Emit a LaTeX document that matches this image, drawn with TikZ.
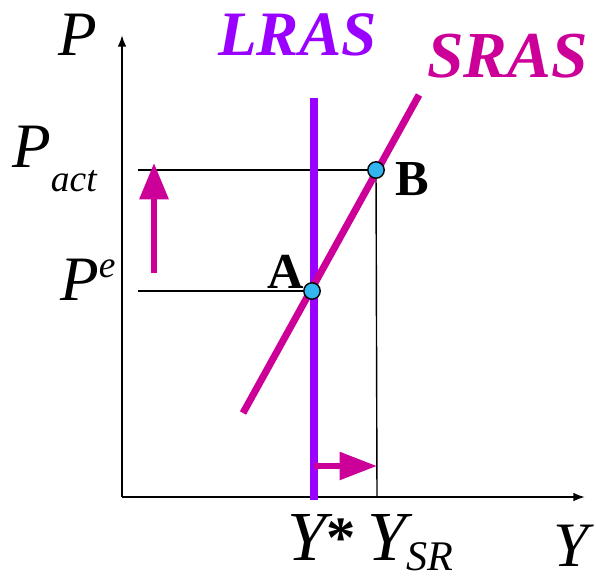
\documentclass[tikz,border=0pt]{standalone}
\usepackage{fontspec}
\setmainfont{Liberation Serif}
\usetikzlibrary{arrows.meta, positioning}
\definecolor{lrascol}{HTML}{9900FF}
\definecolor{srascol}{HTML}{CC0099}
\definecolor{ptcol}{HTML}{33B5F0}
\tikzset{
  axis/.style={line width=1.7pt, -{Latex[length=10pt,width=7.5pt]}},
  guide/.style={line width=1.2pt},
  curve/.style={line width=6pt},
  movearrow/.style={srascol, line width=5pt, -{Triangle[length=31pt,width=24pt]}},
  eqpt/.style={circle, draw=black, line width=1.2pt, fill=ptcol, inner sep=0pt, minimum size=14pt},
  lbl/.style={inner sep=0pt, anchor=base west, font=\fontsize{54}{60}\selectfont\itshape}
}

\begin{document}
\begin{tikzpicture}[x=0.03cm, y=-0.03cm]
  \useasboundingbox (0,0) rectangle (596,575);
  % axes
  \coordinate (O) at (122,497);
  \coordinate (ytop) at (122,35);
  \coordinate (xend) at (585,497);
  \draw[axis] (O) -- (ytop);
  \draw[axis] (O) -- (xend);
  %
  \coordinate (a) at (312,291);
  \coordinate (b) at (376,170);
  \coordinate (pact) at (138,170);
  \coordinate (pe) at (138,291);
  \coordinate (ysr) at (377,497);
  \draw[guide] (pact) -- (b);
  \draw[guide] (pe) -- (a);
  \draw[guide] (b) -- (ysr);
  %
  \coordinate (lrastop) at (314,98);
  \coordinate (lrasbot) at (314,500);
  \coordinate (srastop) at (419,95);
  \coordinate (srasbot) at (243,413);
  \draw[curve, lrascol] (lrasbot) -- (lrastop);
  \draw[curve, srascol] (srasbot) -- (srastop);
  %
  \coordinate (upfrom) at (154,273);
  \coordinate (upto) at (154,163);
  \coordinate (rtfrom) at (314,466);
  \coordinate (rtto) at (377,466);
  \draw[movearrow] (upfrom) -- (upto);
  \draw[movearrow, -{Triangle[length=32pt,width=23pt]}] (rtfrom) -- (rtto);
  %
  \node[eqpt] (A) at (a) {};
  \node[eqpt] (B) at (b) {};
  %
  \node[lbl] (plab) at (58,55) {P};
  \node[lbl, lrascol, font=\fontsize{54}{60}\selectfont\bfseries\itshape] (lraslab) at (218,55) {LRAS};
  \node[lbl, srascol, font=\fontsize{56}{60}\selectfont\bfseries\itshape] (sraslab) at (427,77) {SRAS};
  \node[lbl] (pactlab) at (12,167) {P\raisebox{-21pt}{\fontsize{32}{32}\selectfont act}};
  \node[lbl] (pelab) at (60,300) {P\raisebox{19pt}{\fontsize{32}{32}\selectfont e}};
  \node[lbl, font=\fontsize{43}{48}\selectfont\bfseries] (alab) at (267,288) {A};
  \node[lbl, font=\fontsize{43}{48}\selectfont\bfseries] (blab) at (395,195) {B};
  \node[lbl, font=\fontsize{60}{66}\selectfont\itshape] (ystar) at (287,560) {Y\raisebox{2pt}{\fontsize{50}{50}\selectfont\upshape\bfseries*}};
  \node[lbl, font=\fontsize{60}{66}\selectfont\itshape] (ysrlab) at (367,560) {Y\raisebox{-9pt}{\fontsize{36}{36}\selectfont SR}};
  \node[lbl] (ylab) at (553,566) {Y};
\end{tikzpicture}
\end{document}
